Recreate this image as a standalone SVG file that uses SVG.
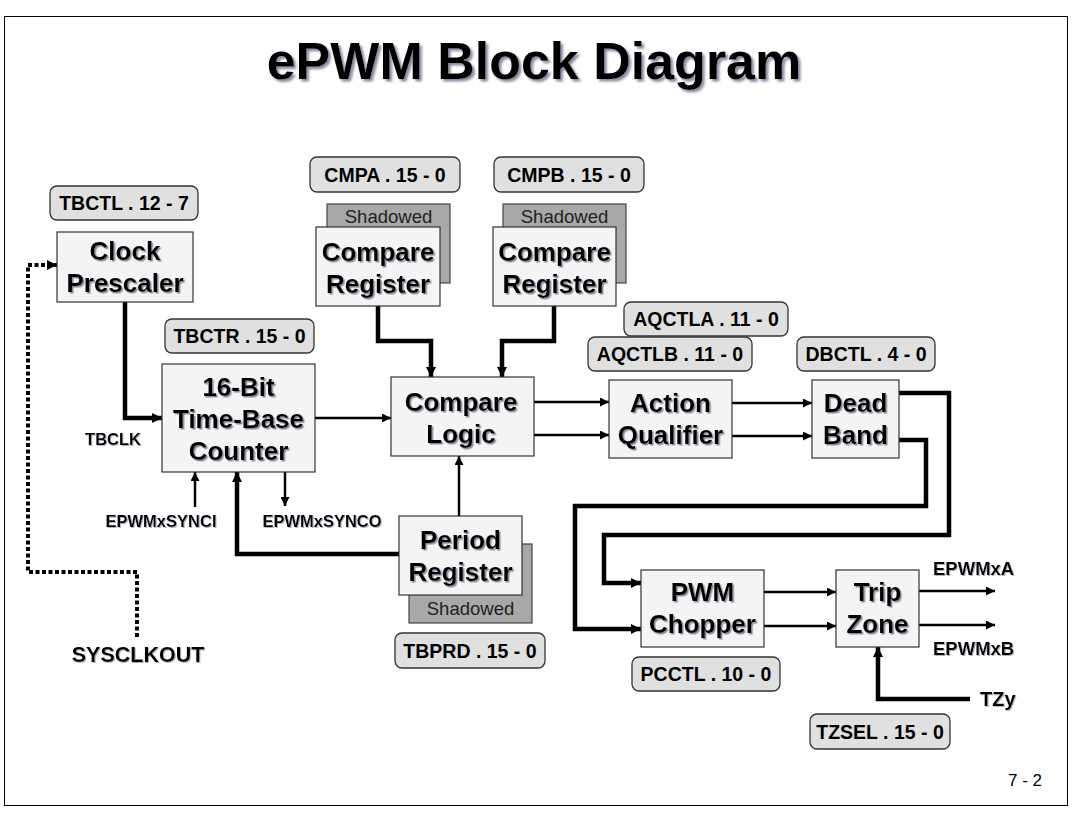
<svg xmlns="http://www.w3.org/2000/svg" width="1078" height="826" viewBox="0 0 1078 826">
<defs>
<marker id="ah" viewBox="0 0 10 10" refX="10" refY="5" markerWidth="10" markerHeight="9" markerUnits="userSpaceOnUse" orient="auto">
<path d="M0,0 L10,5 L0,10 z" fill="#000"/>
</marker>
<marker id="ahs" viewBox="0 0 10 10" refX="10" refY="5" markerWidth="11" markerHeight="10" markerUnits="userSpaceOnUse" orient="auto">
<path d="M0,0 L10,5 L0,10 z" fill="#000"/>
</marker>
<filter id="sh" x="-10%" y="-10%" width="130%" height="140%">
<feDropShadow dx="1.5" dy="1.5" stdDeviation="0.6" flood-color="#8a8a9a" flood-opacity="1"/>
</filter>
<filter id="ssh" x="-10%" y="-10%" width="130%" height="140%">
<feDropShadow dx="1" dy="1" stdDeviation="0.5" flood-color="#a0a0b0" flood-opacity="0.8"/>
</filter>
<filter id="tsh" x="-5%" y="-10%" width="115%" height="130%">
<feDropShadow dx="2.5" dy="2.5" stdDeviation="0.8" flood-color="#8a8aa0" flood-opacity="1"/>
</filter>
</defs>
<style>
.box{fill:#f4f4f4;stroke:#333;stroke-width:1.2}
.sbox{fill:#a8a8a8;stroke:#444;stroke-width:1.2}
.reg{fill:#e0e0e0;stroke:#333;stroke-width:1.3}
.bt{font-family:"Liberation Sans",Arial,sans-serif;font-weight:bold;font-size:26px;text-anchor:middle;fill:#000;filter:url(#sh)}
.rt{font-family:"Liberation Sans",Arial,sans-serif;font-weight:bold;font-size:19.5px;text-anchor:middle;fill:#000}
.st{font-family:"Liberation Sans",Arial,sans-serif;font-size:18.5px;text-anchor:middle;fill:#222}
.lt{font-family:"Liberation Sans",Arial,sans-serif;font-weight:bold;fill:#000;filter:url(#ssh)}
.thin{fill:none;stroke:#000;stroke-width:2.5;marker-end:url(#ah)}
.thick{fill:none;stroke:#000;stroke-width:4.5;marker-end:url(#ahs)}
.dot{fill:none;stroke:#000;stroke-width:4;stroke-dasharray:4 2.5;marker-end:url(#ahs)}
</style>
<rect x="0" y="0" width="1078" height="826" fill="#fff"/>
<rect x="4.5" y="16.5" width="1063" height="789" fill="none" stroke="#000" stroke-width="1"/>
<text x="534" y="79" font-family="'Liberation Sans',Arial,sans-serif" font-weight="bold" font-size="52" text-anchor="middle" filter="url(#tsh)">ePWM Block Diagram</text>

<g id="connectors">
<path class="thick" d="M125,302 V418 H162"/>
<path class="dot" d="M137,637 V572 H28 V265 H57"/>
<path class="thin" d="M315,418 H391"/>
<path class="thin" d="M195,507 V472"/>
<path class="thin" d="M285,472 V506"/>
<path class="thick" d="M399,554 H237 V472"/>
<path class="thin" d="M459,516 V456"/>
<path class="thick" d="M378,306 V341 H431 V377"/>
<path class="thick" d="M554,306 V341 H502 V377"/>
<path class="thin" d="M534,402 H609"/>
<path class="thin" d="M534,435 H609"/>
<path class="thin" d="M732,403 H812"/>
<path class="thin" d="M732,436 H812"/>
<path class="thick" d="M899,393 H949 V535 H604 V583 H641"/>
<path class="thick" d="M899,440 H926 V506 H575 V629 H641"/>
<path class="thin" d="M764,592 H836"/>
<path class="thin" d="M764,626 H836"/>
<path class="thin" d="M919,591 H995"/>
<path class="thin" d="M919,625 H995"/>
<path class="thick" d="M970,699 H878 V647"/>
</g>

<g id="tbctl"><rect class="reg" x="50" y="186" width="148" height="34" rx="7"/><text class="rt" x="124" y="210">TBCTL . 12 - 7</text></g>
<g id="clock-prescaler"><rect class="box" x="57" y="232" width="136" height="70"/><text class="bt" x="125" y="260">Clock</text><text class="bt" x="125" y="292">Prescaler</text></g>
<g id="tbctr"><rect class="reg" x="165" y="319" width="149" height="34" rx="7"/><text class="rt" x="239.5" y="343">TBCTR . 15 - 0</text></g>
<g id="time-base-counter"><rect class="box" x="162" y="364" width="153" height="108"/><text class="bt" x="238.5" y="396">16-Bit</text><text class="bt" x="238.5" y="428">Time-Base</text><text class="bt" x="238.5" y="460">Counter</text></g>

<g id="cmpa"><rect class="reg" x="310" y="157" width="150" height="35" rx="7"/><text class="rt" x="385" y="182">CMPA . 15 - 0</text></g>
<g id="compare-register-a"><rect class="sbox" x="327" y="204" width="123" height="79"/><text class="st" x="388.5" y="223">Shadowed</text><rect class="box" x="316" y="227" width="124" height="79"/><text class="bt" x="378" y="261">Compare</text><text class="bt" x="378" y="293">Register</text></g>
<g id="cmpb"><rect class="reg" x="494" y="157" width="150" height="35" rx="7"/><text class="rt" x="569" y="182">CMPB . 15 - 0</text></g>
<g id="compare-register-b"><rect class="sbox" x="503" y="204" width="123" height="79"/><text class="st" x="564.5" y="223">Shadowed</text><rect class="box" x="493" y="227" width="123" height="79"/><text class="bt" x="554.5" y="261">Compare</text><text class="bt" x="554.5" y="293">Register</text></g>

<g id="compare-logic"><rect class="box" x="391" y="377" width="143" height="79"/><text class="bt" x="461" y="411">Compare</text><text class="bt" x="461" y="443">Logic</text></g>

<g id="aqctla"><rect class="reg" x="624" y="302" width="164" height="34" rx="7"/><text class="rt" x="706" y="326">AQCTLA . 11 - 0</text></g>
<g id="aqctlb"><rect class="reg" x="588" y="337" width="164" height="34" rx="7"/><text class="rt" x="670" y="361">AQCTLB . 11 - 0</text></g>
<g id="action-qualifier"><rect class="box" x="609" y="380" width="123" height="78"/><text class="bt" x="670.5" y="412">Action</text><text class="bt" x="670.5" y="444">Qualifier</text></g>

<g id="dbctl"><rect class="reg" x="797" y="337" width="138" height="34" rx="7"/><text class="rt" x="866" y="361">DBCTL . 4 - 0</text></g>
<g id="dead-band"><rect class="box" x="812" y="380" width="87" height="78"/><text class="bt" x="855.5" y="412">Dead</text><text class="bt" x="855.5" y="444">Band</text></g>

<g id="period-register"><rect class="sbox" x="409" y="544" width="123" height="79"/><text class="st" x="470.5" y="615">Shadowed</text><rect class="box" x="399" y="516" width="123" height="79"/><text class="bt" x="460.5" y="549">Period</text><text class="bt" x="460.5" y="581">Register</text></g>
<g id="tbprd"><rect class="reg" x="395" y="633" width="150" height="35" rx="7"/><text class="rt" x="470" y="658">TBPRD . 15 - 0</text></g>

<g id="pwm-chopper"><rect class="box" x="641" y="570" width="123" height="77"/><text class="bt" x="702.5" y="601">PWM</text><text class="bt" x="702.5" y="633">Chopper</text></g>
<g id="pcctl"><rect class="reg" x="632" y="657" width="148" height="34" rx="7"/><text class="rt" x="706" y="681">PCCTL . 10 - 0</text></g>

<g id="trip-zone"><rect class="box" x="836" y="570" width="83" height="77"/><text class="bt" x="877.5" y="601">Trip</text><text class="bt" x="877.5" y="633">Zone</text></g>
<g id="tzsel"><rect class="reg" x="810" y="714" width="140" height="35" rx="7"/><text class="rt" x="880" y="739">TZSEL . 15 - 0</text></g>

<g id="labels">
<text class="lt" x="113" y="445" font-size="16.5" text-anchor="middle">TBCLK</text>
<text class="lt" x="161" y="527" font-size="16.5" text-anchor="middle">EPWMxSYNCI</text>
<text class="lt" x="322" y="527" font-size="16.5" text-anchor="middle">EPWMxSYNCO</text>
<text class="lt" x="138" y="662" font-size="21.5" text-anchor="middle">SYSCLKOUT</text>
<text class="lt" x="933" y="575" font-size="18.5">EPWMxA</text>
<text class="lt" x="933" y="655" font-size="18.5">EPWMxB</text>
<text class="lt" x="980" y="706" font-size="20">TZy</text>
<text x="1008" y="786" font-family="'Liberation Sans',Arial,sans-serif" font-size="17">7 - 2</text>
</g>
</svg>
